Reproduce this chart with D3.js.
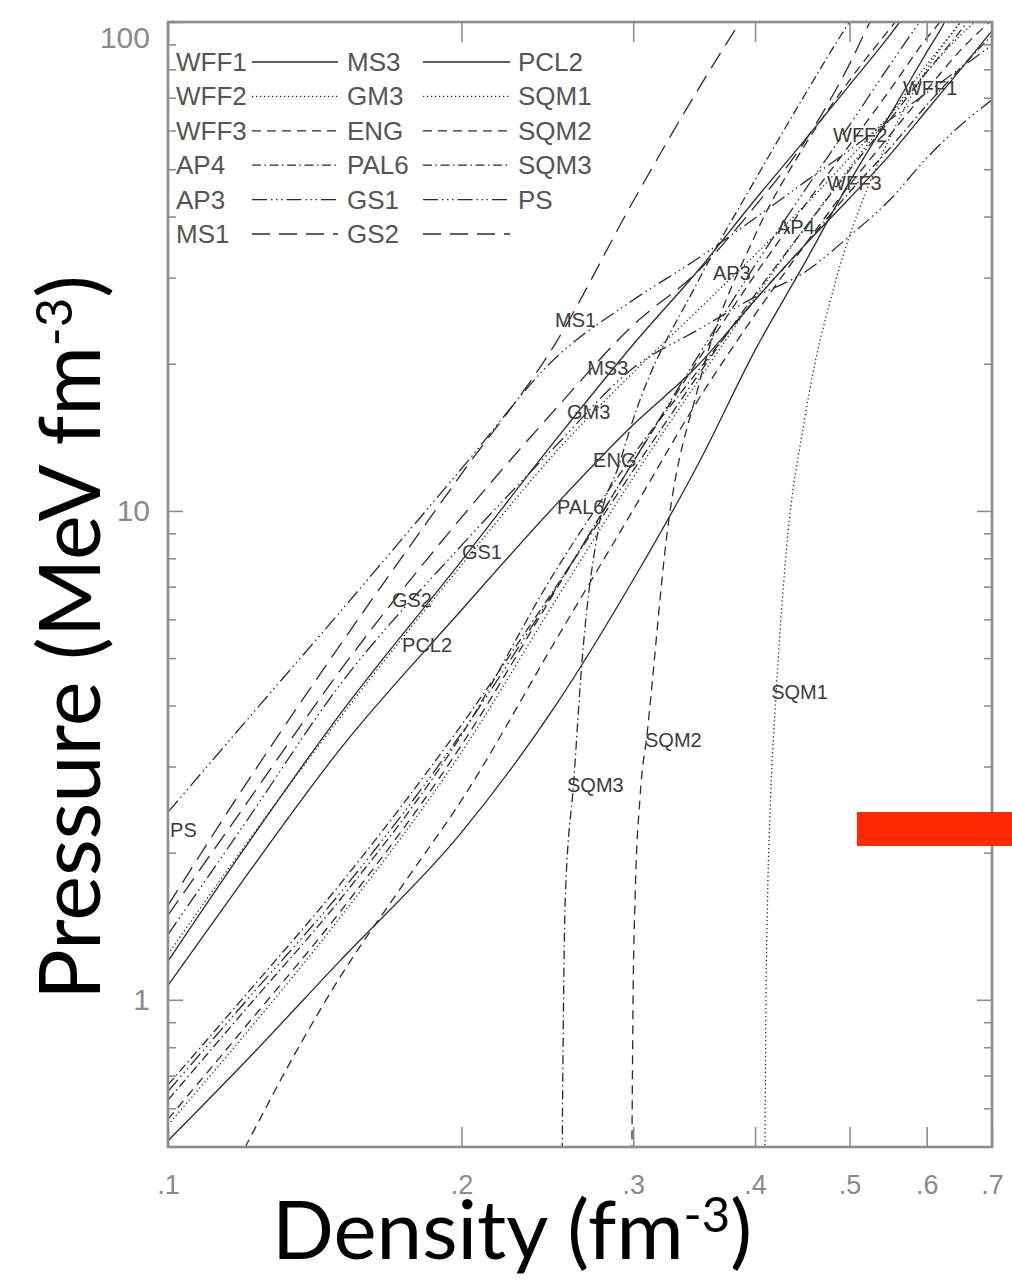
<!DOCTYPE html>
<html>
<head>
<meta charset="utf-8">
<script src="https://cdn.jsdelivr.net/npm/d3@7"></script>
<style>
  html, body { margin: 0; padding: 0; background: #fff; }
  svg { display: block; }
</style>
</head>
<body>
<svg id="chart" width="1012" height="1280"></svg>
<script>
// ---- axis ticks ----
const xTickValues = [0.1, 0.2, 0.3, 0.4, 0.5, 0.6, 0.7];
const xTickLabels = [".1", ".2", ".3", ".4", ".5", ".6", ".7"];
const yTickValues = [1, 10, 100];
const yTickLabels = ["1", "10", "100"];
const yMinorTicks = [0.6, 0.7, 0.8, 0.9, 2, 3, 4, 5, 6, 7, 8, 9, 20, 30, 40, 50, 60, 70, 80, 90];

// ---- legend: three columns, one line style per row ----
const legendColumns = [
  ["WFF1", "WFF2", "WFF3", "AP4", "AP3", "MS1"],
  ["MS3", "GM3", "ENG", "PAL6", "GS1", "GS2"],
  ["PCL2", "SQM1", "SQM2", "SQM3", "PS"]
];
const styleRows = ["solid", "dotted", "dashed", "dashdot", "dashdotdot", "longdash"];

// ---- equations of state: [density (fm^-3), pressure (MeV fm^-3)] ----
const WFF1 = [[0.1,0.515],[0.12,0.747],[0.15,1.2],[0.2,2.2],[0.25,4.01],[0.3,7.23],[0.35,12.5],[0.4,21.3],[0.45,32.2],[0.5,47.1],[0.55,64.5],[0.6,86.8],[0.626,100],[0.64,110]];
const WFF2 = [[0.1,0.555],[0.12,0.85],[0.15,1.47],[0.2,3.21],[0.25,6.58],[0.3,11.7],[0.35,18.5],[0.4,27.3],[0.45,37.9],[0.5,50.3],[0.55,64.5],[0.6,81.7],[0.65,100],[0.67,108]];
const WFF3 = [[0.116,0.44],[0.12,0.5],[0.1366,0.81],[0.15,1.11],[0.1742,1.72],[0.2,2.56],[0.25,5.45],[0.3,10.05],[0.35,16.9],[0.4,25.2],[0.45,35],[0.5,46.4],[0.55,58.7],[0.6,72.6],[0.65,87.6],[0.7,101]];
const AP4  = [[0.1,0.67],[0.12,1.02],[0.15,1.72],[0.2,3.65],[0.25,7.0],[0.3,12.1],[0.35,19],[0.4,27.7],[0.45,37.9],[0.5,49.8],[0.55,63.1],[0.6,79],[0.65,96],[0.67,104]];
const AP3  = [[0.1,0.65],[0.12,0.99],[0.15,1.65],[0.2,3.51],[0.25,6.95],[0.3,12.6],[0.35,20.8],[0.4,31.8],[0.45,45.3],[0.5,61.5],[0.55,81.7],[0.59,100],[0.61,110]];
const MS1  = [[0.1,1.56],[0.12,2.75],[0.15,5.3],[0.2,11.9],[0.25,22.1],[0.3,43],[0.35,73],[0.386,100],[0.4,112]];
const MS3  = [[0.1,1.2],[0.12,2.05],[0.15,3.83],[0.2,7.9],[0.25,14],[0.3,21.9],[0.35,31.1],[0.4,43.3],[0.45,57.4],[0.5,74.3],[0.55,94],[0.563,100],[0.58,108]];
const GM3  = [[0.1,1.24],[0.12,2.07],[0.15,3.77],[0.2,7.75],[0.25,13.2],[0.3,19.2],[0.35,25.8],[0.4,33.4],[0.45,42.2],[0.5,52.7],[0.55,64.5],[0.6,79],[0.65,94],[0.672,100],[0.69,105]];
const ENG  = [[0.1,0.57],[0.12,0.88],[0.15,1.51],[0.2,3.32],[0.25,6.9],[0.3,12.6],[0.35,20.4],[0.4,30.4],[0.45,42.2],[0.5,56],[0.55,72.6],[0.6,92.7],[0.619,100],[0.64,110]];
const PAL6 = [[0.1,0.624],[0.12,0.954],[0.15,1.6],[0.2,3.48],[0.25,7.57],[0.3,13],[0.35,19.4],[0.4,27],[0.45,35],[0.5,44.9],[0.55,55.2],[0.6,67.6],[0.65,80.5],[0.7,94]];
const GS1  = [[0.1,1.36],[0.12,2.3],[0.15,4.4],[0.2,8.5],[0.25,13.6],[0.3,19.6],[0.35,23.5],[0.4,27.4],[0.45,30.8],[0.5,36.5],[0.55,43.3],[0.6,52.7],[0.65,61.5],[0.7,69.3]];
const GS2  = [[0.1,1.49],[0.12,2.5],[0.15,4.7],[0.2,9.7],[0.25,16.2],[0.3,24],[0.35,31],[0.4,42],[0.45,57],[0.5,82],[0.525,100],[0.54,110]];
const PCL2 = [[0.1,1.07],[0.12,1.78],[0.15,3.25],[0.2,6.27],[0.25,10.3],[0.3,15],[0.35,19.9],[0.4,27],[0.45,35],[0.5,43.6],[0.55,53.5],[0.6,66],[0.65,80],[0.7,96]];
const SQM1 = [[0.4094,0.45],[0.4095,0.5],[0.4105,1.0],[0.412,1.6],[0.415,2.6],[0.42,4.1],[0.43,8.0],[0.45,15.5],[0.485,30],[0.52,45],[0.55,58],[0.6,80],[0.65,100],[0.67,108]];
const SQM2 = [[0.299,0.45],[0.2991,0.5],[0.2999,1.0],[0.3013,1.6],[0.3049,2.6],[0.31,3.5],[0.325,9.0],[0.35,18],[0.4,36.6],[0.45,56],[0.5,76],[0.557,100],[0.57,106]];
const SQM3 = [[0.2536,0.45],[0.2537,0.5],[0.2545,1.0],[0.2555,1.6],[0.2607,2.8],[0.266,5.0],[0.2766,9.3],[0.29,12.4],[0.3,15.4],[0.35,29.6],[0.4,47.5],[0.45,71],[0.5,100],[0.51,106]];
const PS   = [[0.1,2.42],[0.12,3.70],[0.15,6.2],[0.2,12.2],[0.25,20.6],[0.3,27.0],[0.35,32.9],[0.4,39.7],[0.45,47.1],[0.5,54.7],[0.55,63.1],[0.6,71.6],[0.65,80.5],[0.7,89.7]];

const eosSeries = { WFF1, WFF2, WFF3, AP4, AP3, MS1, MS3, GM3, ENG, PAL6, GS1, GS2, PCL2, SQM1, SQM2, SQM3, PS };

// on-curve name tags: [name, density, pressure] at the tag's left end
const curveTags = [
  ["PS", 0.1005, 2.23], ["GS2", 0.1697, 6.58], ["PCL2", 0.1738, 5.32], ["GS1", 0.2002, 8.24],
  ["PAL6", 0.2506, 10.2], ["ENG", 0.2729, 12.7], ["GM3", 0.2566, 15.9], ["MS3", 0.2691, 19.6],
  ["MS1", 0.2494, 24.6], ["AP3", 0.3622, 30.7], ["AP4", 0.4213, 38.1], ["WFF3", 0.4742, 46.9],
  ["WFF2", 0.4809, 58.7], ["WFF1", 0.5673, 73.3], ["SQM1", 0.4155, 4.26], ["SQM2", 0.3085, 3.40],
  ["SQM3", 0.2566, 2.75]
];

// ---- layout ----
const svg = d3.select("#chart");
const frame = { left: 168, right: 992, top: 22, bottom: 1147 };
const x = d3.scaleLog().domain([0.1, 0.7]).range([frame.left, frame.right]);
const y = d3.scaleLog().domain([0.5, 100]).range([frame.bottom, frame.top]);

const dashFor = {
  solid: null,
  dotted: "1.3,2.7",
  dashed: "9,6",
  dashdot: "9,3.5,1.5,3.5",
  dashdotdot: "15,4,1.5,3.5,1.5,3.5,1.5,4",
  longdash: "18,9"
};
const styleOf = {};
legendColumns.forEach(col => col.forEach((n, i) => { styleOf[n] = styleRows[i]; }));

svg.append("defs").append("clipPath").attr("id", "plot-area")
  .append("rect")
  .attr("x", frame.left).attr("y", frame.top)
  .attr("width", frame.right - frame.left).attr("height", frame.bottom - frame.top);

// ---- curves ----
const line = d3.line().x(d => x(d[0])).y(d => y(d[1])).curve(d3.curveMonotoneX);
const curves = svg.append("g").attr("clip-path", "url(#plot-area)");
Object.entries(eosSeries).forEach(([name, vals]) => {
  curves.append("path")
    .datum(vals)
    .attr("d", line)
    .attr("fill", "none")
    .attr("stroke", "#2b2b2b")
    .attr("stroke-width", 1.3)
    .attr("stroke-dasharray", dashFor[styleOf[name]])
    .attr("class", "eos " + name);
});

// ---- axes ----
const axisColor = "#8c8c8c";
const labelColor = "#8a8a8a";
const tickFont = "'Liberation Sans', Arial, sans-serif";

function styleAxis(g) {
  g.select(".domain").remove();
  g.selectAll(".tick line").attr("stroke", axisColor).attr("stroke-width", 1.6);
  g.selectAll(".tick text").attr("fill", labelColor).attr("font-family", tickFont).attr("font-size", 30);
}

// left
svg.append("g").attr("transform", `translate(${frame.left},0)`)
  .call(d3.axisLeft(y).tickValues(yTickValues).tickSize(-15).tickPadding(18)
    .tickFormat((d, i) => yTickLabels[i]))
  .call(styleAxis)
  .call(g => g.selectAll(".tick text").filter(d => d === 100).attr("dy", "0.85em"));
svg.append("g").attr("transform", `translate(${frame.left},0)`)
  .call(d3.axisLeft(y).tickValues(yMinorTicks).tickSize(-8).tickFormat(""))
  .call(styleAxis);
// right
svg.append("g").attr("transform", `translate(${frame.right},0)`)
  .call(d3.axisRight(y).tickValues(yTickValues).tickSize(-15).tickFormat(""))
  .call(styleAxis);
svg.append("g").attr("transform", `translate(${frame.right},0)`)
  .call(d3.axisRight(y).tickValues(yMinorTicks).tickSize(-8).tickFormat(""))
  .call(styleAxis);
// bottom
svg.append("g").attr("transform", `translate(0,${frame.bottom})`)
  .call(d3.axisBottom(x).tickValues(xTickValues).tickSize(-20).tickPadding(28)
    .tickFormat((d, i) => xTickLabels[i]))
  .call(styleAxis)
  .call(g => g.selectAll(".tick text").attr("font-size", 27));
// top
svg.append("g").attr("transform", `translate(0,${frame.top})`)
  .call(d3.axisTop(x).tickValues(xTickValues).tickSize(-20).tickFormat(""))
  .call(styleAxis);

// frame
svg.append("rect")
  .attr("x", frame.left).attr("y", frame.top)
  .attr("width", frame.right - frame.left).attr("height", frame.bottom - frame.top)
  .attr("fill", "none").attr("stroke", axisColor).attr("stroke-width", 2.6);

// ---- curve name tags ----
svg.append("g").selectAll("text").data(curveTags).join("text")
  .attr("x", d => x(d[1])).attr("y", d => y(d[2]))
  .attr("dominant-baseline", "central")
  .attr("font-family", tickFont).attr("font-size", 20)
  .attr("fill", "#3c3c3c")
  .text(d => d[0]);

// ---- legend ----
const legend = svg.append("g");
const rowY = i => 62 + i * 34.4;
const colTextX = [176, 347, 518];
const colLine = [[252, 338], [423, 510]];
legendColumns.forEach((col, c) => {
  col.forEach((name, r) => {
    legend.append("text")
      .attr("x", colTextX[c]).attr("y", rowY(r))
      .attr("dominant-baseline", "central")
      .attr("font-family", tickFont).attr("font-size", 26)
      .attr("fill", "#555")
      .text(name);
  });
});
colLine.forEach(([x0, x1]) => {
  styleRows.forEach((st, r) => {
    legend.append("line")
      .attr("x1", x0).attr("x2", x1).attr("y1", rowY(r)).attr("y2", rowY(r))
      .attr("stroke", "#2b2b2b").attr("stroke-width", 1.3)
      .attr("stroke-dasharray", dashFor[st]);
  });
});

// ---- axis titles ----
const titleFont = "Lato, 'Open Sans', sans-serif";
function fitWidth(sel, target) {
  const w = sel.node().getComputedTextLength();
  const fs = parseFloat(sel.attr("font-size"));
  sel.attr("font-size", fs * target / w);
}
const yTitle = svg.append("text")
  .attr("transform", "translate(100,1000) rotate(-90)")
  .attr("font-family", titleFont)
  .attr("font-size", 80).attr("fill", "#000");
yTitle.append("tspan").text("Pressure (MeV fm");
yTitle.append("tspan").attr("dy", "-0.55em").attr("font-size", "0.6em").text("-3");
yTitle.append("tspan").attr("dy", "0.33em").text(")");
fitWidth(yTitle, 725);

const xTitle = svg.append("text")
  .attr("x", 272).attr("y", 1259)
  .attr("font-family", titleFont)
  .attr("font-size", 70).attr("fill", "#000");
xTitle.append("tspan").text("Density (fm");
xTitle.append("tspan").attr("dy", "-0.55em").attr("font-size", "0.6em").text("-3");
xTitle.append("tspan").attr("dy", "0.33em").text(")");
fitWidth(xTitle, 480);

// ---- red marker bar ----
svg.append("rect")
  .attr("x", 857).attr("y", 812).attr("width", 155).attr("height", 34)
  .attr("fill", "#ff2a00");
</script>
</body>
</html>
